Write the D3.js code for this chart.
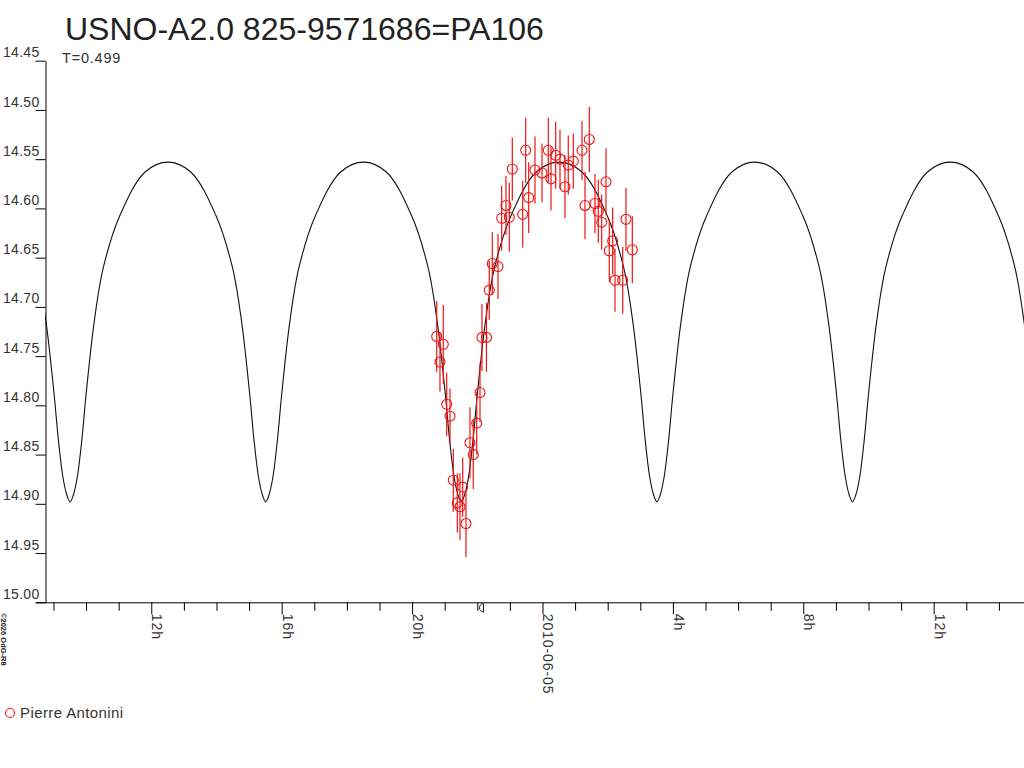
<!DOCTYPE html>
<html>
<head>
<meta charset="utf-8">
<script src="https://cdn.jsdelivr.net/npm/d3@7"></script>
<style>
body { margin: 0; background: #fff; }
svg { display: block; font-family: "Liberation Sans", Arial, sans-serif; }
</style>
</head>
<body>
<div id="chart"></div>
<script>
// observations, time in hours from 2010-06-05 00:00 UT
var obsHours = [-3.245, -3.144, -3.043, -2.939, -2.837, -2.736, -2.613, -2.531, -2.448, -2.347,
    -2.224, -2.123, -2.018, -1.917, -1.856, -1.718, -1.632, -1.540, -1.365, -1.252,
    -1.120, -1.018, -0.926, -0.607, -0.515, -0.423, -0.230, -0.015, 0.178, 0.261,
    0.405, 0.537, 0.690, 0.791, 0.945, 1.212, 1.304, 1.436, 1.610, 1.712,
    1.816, 1.948, 2.049, 2.153, 2.224, 2.460, 2.561, 2.755];
var obsMags = [14.730, 14.756, 14.738, 14.799, 14.811, 14.876, 14.899, 14.903, 14.883, 14.920,
    14.838, 14.850, 14.818, 14.787, 14.731, 14.731, 14.683, 14.656, 14.659, 14.610,
    14.597, 14.609, 14.560, 14.606, 14.541, 14.589, 14.561, 14.564, 14.541, 14.570,
    14.546, 14.550, 14.578, 14.556, 14.552, 14.541, 14.597, 14.530, 14.595, 14.603,
    14.614, 14.573, 14.643, 14.633, 14.673, 14.673, 14.611, 14.642];
var obsErrs = [0.036, 0.030, 0.040, 0.032, 0.028, 0.032, 0.030, 0.034, 0.030, 0.034,
    0.036, 0.035, 0.032, 0.030, 0.034, 0.035, 0.030, 0.032, 0.033, 0.033,
    0.030, 0.035, 0.032, 0.034, 0.033, 0.036, 0.034, 0.030, 0.033, 0.032,
    0.034, 0.030, 0.032, 0.030, 0.028, 0.030, 0.034, 0.033, 0.030, 0.032,
    0.028, 0.034, 0.032, 0.034, 0.032, 0.034, 0.032, 0.034];

// model light curve
var modelHours = [-15.51, -15.23, -14.98, -14.85, -14.71, -14.59, -14.49,
    -14.39, -14.27, -14.13, -14.00, -13.75, -13.47, -12.96, -12.19, -11.49,
    -10.79, -10.02, -9.51, -9.23, -8.98, -8.85, -8.71, -8.59, -8.49,
    -8.39, -8.27, -8.13, -8.00, -7.75, -7.47, -6.96, -6.19, -5.49,
    -4.79, -4.02, -3.51, -3.23, -2.98, -2.85, -2.71, -2.59, -2.49,
    -2.39, -2.27, -2.13, -2.00, -1.75, -1.47, -0.96, -0.19, 0.51,
    1.21, 1.98, 2.49, 2.77, 3.02, 3.15, 3.29, 3.41, 3.51,
    3.61, 3.73, 3.87, 4.00, 4.25, 4.53, 5.04, 5.81, 6.51,
    7.21, 7.98, 8.49, 8.77, 9.02, 9.15, 9.29, 9.41, 9.51,
    9.61, 9.73, 9.87, 10.00, 10.25, 10.53, 11.04, 11.81, 12.51,
    13.21, 13.98, 14.49, 14.77, 15.02];
var modelMags = [14.660, 14.715, 14.789, 14.835, 14.873, 14.891, 14.898,
    14.891, 14.873, 14.835, 14.789, 14.715, 14.660, 14.607, 14.563, 14.553,
    14.563, 14.607, 14.660, 14.715, 14.789, 14.835, 14.873, 14.891, 14.898,
    14.891, 14.873, 14.835, 14.789, 14.715, 14.660, 14.607, 14.563, 14.553,
    14.563, 14.607, 14.660, 14.715, 14.789, 14.835, 14.873, 14.891, 14.898,
    14.891, 14.873, 14.835, 14.789, 14.715, 14.660, 14.607, 14.563, 14.553,
    14.563, 14.607, 14.660, 14.715, 14.789, 14.835, 14.873, 14.891, 14.898,
    14.891, 14.873, 14.835, 14.789, 14.715, 14.660, 14.607, 14.563, 14.553,
    14.563, 14.607, 14.660, 14.715, 14.789, 14.835, 14.873, 14.891, 14.898,
    14.891, 14.873, 14.835, 14.789, 14.715, 14.660, 14.607, 14.563, 14.553,
    14.563, 14.607, 14.660, 14.715, 14.789];

var magTicks = [14.45, 14.50, 14.55, 14.60, 14.65, 14.70, 14.75, 14.80, 14.85, 14.90, 14.95, 15.00];
var majorHours = [-12, -8, -4, 0, 4, 8, 12];
var majorLabels = ["12h", "16h", "20h", "2010-06-05", "4h", "8h", "12h"];
var markHour = -2;

var title = "USNO-A2.0 825-9571686=PA106";
var subtitle = "T=0.499";
var observer = "Pierre Antonini";
var credit = "\u00a92026 OdG-R8";

var width = 1024, height = 768;
var plotL = 45, plotR = 1024, plotT = 60.7, plotB = 602.3;
var red = "#f01414";

var base = Date.UTC(2010, 5, 5);
function toDate(h) { return new Date(base + h * 3600000); }

var x = d3.scaleUtc()
    .domain([toDate(-15.26), toDate(14.77)])
    .range([plotL, plotR]);
var y = d3.scaleLinear()
    .domain([14.45, 15.00])
    .range([plotT, plotB]);

var svg = d3.select('#chart').append('svg')
    .attr('width', width).attr('height', height);

svg.append('defs').append('clipPath').attr('id', 'plot-clip')
    .append('rect').attr('x', plotL).attr('y', 0)
    .attr('width', plotR - plotL).attr('height', plotB);

// title and period
svg.append('text')
    .attr('x', 65).attr('y', 40)
    .attr('fill', '#222')
    .attr('font-size', '32px')
    .text(title);
svg.append('text')
    .attr('x', 62).attr('y', 63)
    .attr('fill', '#333')
    .attr('font-size', '14.5px')
    .attr('letter-spacing', '0.8px')
    .text(subtitle);

// y axis
var yAxis = svg.append('g')
    .attr('transform', 'translate(' + (plotL + 0.5) + ',0)')
    .call(d3.axisLeft(y).tickValues(magTicks).tickSize(10).tickSizeOuter(0)
        .tickFormat(d3.format('.2f')));
yAxis.select('.domain').attr('stroke', '#000');
yAxis.selectAll('.tick line').attr('stroke', '#000');
yAxis.selectAll('.tick text')
    .attr('x', -6).attr('dy', '-0.28em')
    .attr('fill', '#333')
    .attr('font-size', '14px')
    .attr('letter-spacing', '0.3px')
    .attr('font-family', '"Liberation Sans", Arial, sans-serif');

// x axis, one tick per hour
var xAxis = svg.append('g')
    .attr('transform', 'translate(0,' + plotB + ')')
    .call(d3.axisBottom(x).ticks(d3.utcHour.every(1)).tickSize(8.5).tickSizeOuter(0)
        .tickFormat(function(d) {
            var h = Math.round((d - base) / 3600000);
            var i = majorHours.indexOf(h);
            return i < 0 ? '' : majorLabels[i];
        }));
xAxis.select('.domain').attr('d', 'M36,0.5H' + plotR).attr('stroke', '#000');
xAxis.selectAll('.tick line')
    .attr('stroke', '#000')
    .attr('y2', function(d) {
        var h = Math.round((d - base) / 3600000);
        return majorHours.indexOf(h) < 0 ? 8.5 : 12;
    });
xAxis.selectAll('.tick text')
    .attr('transform', 'rotate(90)')
    .attr('x', 11.5).attr('y', -0.5).attr('dy', 0)
    .attr('text-anchor', 'start')
    .attr('fill', '#333')
    .attr('font-size', '14px')
    .attr('letter-spacing', '0.9px')
    .attr('font-family', '"Liberation Sans", Arial, sans-serif');

// small marker next to the 21h tick
var mx = Math.round(x(toDate(markHour))) + 6.5;
svg.append('path')
    .attr('d', 'M' + mx + ',603.5V612A4,4.25 0 0 1 ' + mx + ',603.5')
    .attr('fill', 'none').attr('stroke', '#222').attr('stroke-width', 1);

// credit, vertical at bottom left
svg.append('text')
    .attr('transform', 'translate(1,613) rotate(90)')
    .attr('font-size', '7.5px')
    .attr('font-weight', 'bold')
    .attr('fill', '#222')
    .text(credit);

// model curve
var modelPts = modelHours.map(function(h, i) { return [h, modelMags[i]]; });
var line = d3.line()
    .x(function(d) { return x(toDate(d[0])); })
    .y(function(d) { return y(d[1]); })
    .curve(d3.curveCatmullRom.alpha(0.5));
svg.append('path')
    .datum(modelPts)
    .attr('clip-path', 'url(#plot-clip)')
    .attr('d', line)
    .attr('fill', 'none')
    .attr('stroke', '#111')
    .attr('stroke-width', 1.1);

// observations with error bars
var obs = obsHours.map(function(h, i) { return { h: h, m: obsMags[i], e: obsErrs[i] }; });
var pts = svg.append('g').selectAll('g')
    .data(obs).enter().append('g');
pts.append('line')
    .attr('x1', function(d) { return x(toDate(d.h)); })
    .attr('x2', function(d) { return x(toDate(d.h)); })
    .attr('y1', function(d) { return y(d.m - d.e); })
    .attr('y2', function(d) { return y(d.m + d.e); })
    .attr('stroke', red).attr('stroke-width', 1.2);
pts.append('circle')
    .attr('cx', function(d) { return x(toDate(d.h)); })
    .attr('cy', function(d) { return y(d.m); })
    .attr('r', 5)
    .attr('fill', 'none')
    .attr('stroke', red).attr('stroke-width', 1.1);

// legend
svg.append('circle')
    .attr('cx', 10).attr('cy', 713).attr('r', 4.5)
    .attr('fill', 'none').attr('stroke', red).attr('stroke-width', 1.1);
svg.append('text')
    .attr('x', 20).attr('y', 718)
    .attr('fill', '#333')
    .attr('font-size', '15px')
    .attr('letter-spacing', '0.4px')
    .text(observer);
</script>
</body>
</html>
